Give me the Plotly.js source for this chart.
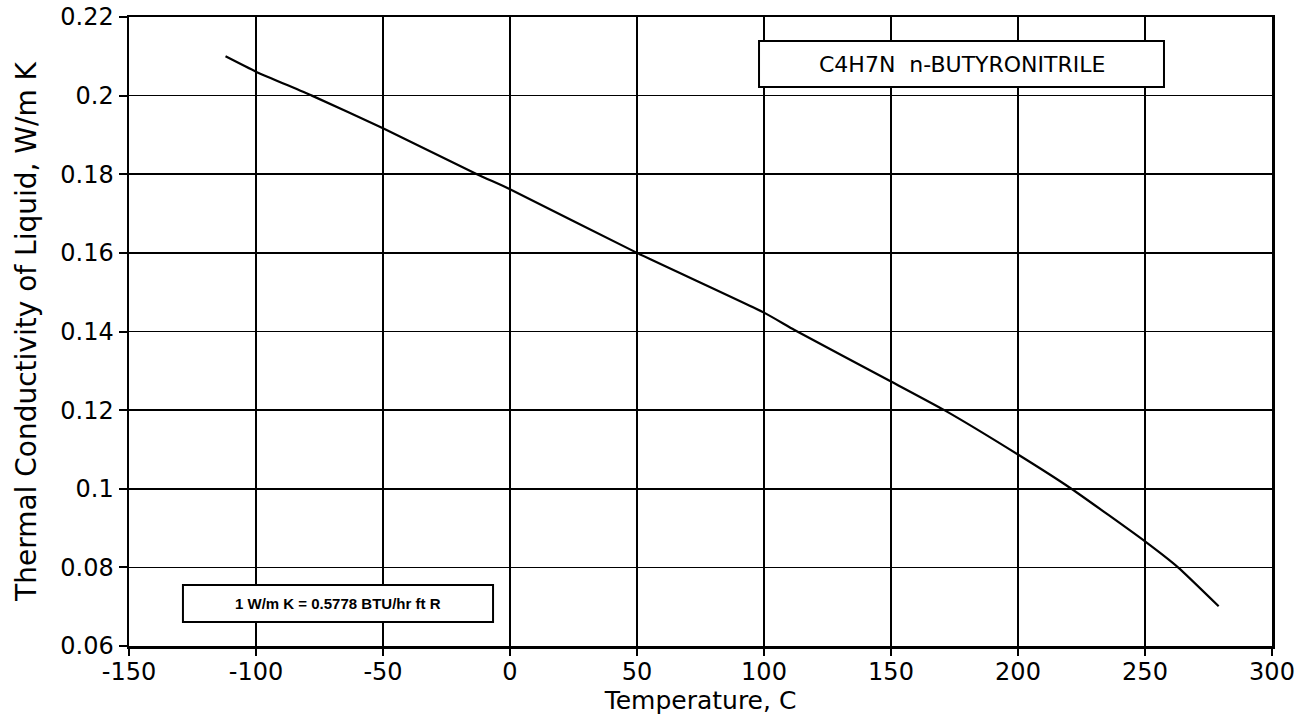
<!DOCTYPE html>
<html>
<head>
<meta charset="utf-8">
<script src="https://cdn.plot.ly/plotly-3.0.1.min.js"></script>
<style>
html,body{margin:0;padding:0;background:#fff;}
#chart{width:1312px;height:722px;}
</style>
</head>
<body>
<div id="chart"></div>
<script>
// Temperature, C
var temperatureC = [-112, -100, -78, -50, -13, 0, 50, 100, 112, 150, 171, 200, 221, 250, 263, 279];
// Thermal conductivity of liquid, W/m K
var conductivity = [0.2100, 0.2061, 0.2000, 0.1917, 0.1800, 0.1762, 0.1600, 0.1448, 0.1404, 0.1273, 0.1200, 0.1087, 0.1000, 0.0866, 0.0800, 0.0701];

var xTicks = [-150, -100, -50, 0, 50, 100, 150, 200, 250, 300];
var yTicks = [0.06, 0.08, 0.1, 0.12, 0.14, 0.16, 0.18, 0.2, 0.22];
var yTickText = ['0.06', '0.08', '0.1', '0.12', '0.14', '0.16', '0.18', '0.2', '0.22'];

var compoundLabel = 'C4H7N  n-BUTYRONITRILE';
var conversionLabel = '1 W/m K = 0.5778 BTU/hr ft R';
var xTitle = 'Temperature, C';
var yTitle = 'Thermal Conductivity of Liquid, W/m K';

var FONT = 'DejaVu Sans, Liberation Sans, Arial, sans-serif';
var FONT2 = 'Liberation Sans, Arial, Helvetica, sans-serif';

var trace = {
  x: temperatureC,
  y: conductivity,
  type: 'scatter',
  mode: 'lines',
  line: {color: '#000', width: 2.2, shape: 'spline', smoothing: 0.5},
  hoverinfo: 'x+y',
  showlegend: false
};

var layout = {
  width: 1312,
  height: 722,
  margin: {l: 129, r: 40, t: 17, b: 76},
  paper_bgcolor: '#fff',
  plot_bgcolor: '#fff',
  font: {family: FONT, color: '#000', size: 24},
  showlegend: false,
  xaxis: {
    range: [-150, 300],
    tickmode: 'array',
    tickvals: xTicks,
    ticktext: xTicks.map(String),
    ticks: 'outside',
    ticklen: 7,
    tickwidth: 2,
    tickcolor: '#000',
    ticklabelstandoff: -4,
    showline: true,
    linecolor: '#000',
    linewidth: 2.5,
    mirror: true,
    showgrid: true,
    gridcolor: '#000',
    gridwidth: 1.6,
    zeroline: false,
    tickfont: {family: FONT, size: 24, color: '#000'},
    title: {text: xTitle, font: {family: FONT, size: 25, color: '#000'}, standoff: 2}
  },
  yaxis: {
    range: [0.06, 0.22],
    tickmode: 'array',
    tickvals: yTicks,
    ticktext: yTickText,
    ticks: 'outside',
    ticklen: 8,
    tickwidth: 2,
    tickcolor: '#000',
    showline: true,
    linecolor: '#000',
    linewidth: 2.5,
    mirror: true,
    showgrid: true,
    gridcolor: '#000',
    gridwidth: 1.6,
    zeroline: false,
    tickfont: {family: FONT, size: 24, color: '#000'},
    title: {text: yTitle, font: {family: FONT, size: 28, color: '#000'}, standoff: 16}
  },
  shapes: [
    {type: 'rect', xref: 'paper', yref: 'paper', x0: 0.5512, x1: 0.9055, y0: 0.8887, y1: 0.9618,
     fillcolor: '#fff', line: {color: '#000', width: 2}, layer: 'above'},
    {type: 'rect', xref: 'paper', yref: 'paper', x0: 0.0472, x1: 0.3185, y0: 0.0382, y1: 0.0970,
     fillcolor: '#fff', line: {color: '#000', width: 2}, layer: 'above'}
  ],
  annotations: [
    {xref: 'paper', yref: 'paper', x: (0.5512 + 0.9055) / 2, y: (0.8887 + 0.9618) / 2,
     text: compoundLabel, showarrow: false, xanchor: 'center', yanchor: 'middle',
     font: {family: FONT, size: 22, color: '#000'}},
    {xref: 'paper', yref: 'paper', x: (0.0472 + 0.3185) / 2, y: (0.0382 + 0.0970) / 2,
     text: '<b>' + conversionLabel + '</b>', showarrow: false, xanchor: 'center', yanchor: 'middle',
     font: {family: FONT2, size: 15, color: '#000'}}
  ]
};

Plotly.newPlot('chart', [trace], layout, {staticPlot: true, displayModeBar: false});
</script>
</body>
</html>
